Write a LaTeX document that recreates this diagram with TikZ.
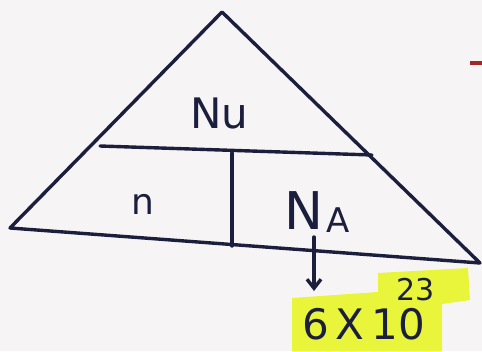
\documentclass[tikz,border=0pt]{standalone}
\usepackage{fontspec}
\setmainfont{DejaVu Sans}
\usetikzlibrary{arrows.meta}
\definecolor{ink}{HTML}{1B1E3C}
\definecolor{paper}{HTML}{F7F4F6}
\definecolor{hl}{HTML}{E8F53A}
\definecolor{redmark}{HTML}{A0262A}
\tikzset{
  edge/.style={draw=ink, line width=3.4pt, line join=round, line cap=round},
  lbl/.style={text=ink, inner sep=0pt, anchor=base west},
}
\begin{document}
\begin{tikzpicture}[x=1pt,y=-1pt]
\fill[paper] (0,0) rectangle (482,351);
\useasboundingbox (0,0) rectangle (482,351);
% highlight
\fill[hl] (292,298) -- (378,292) -- (378,273) -- (468,268) -- (470,300) -- (442,304) -- (442,351) -- (292,351) -- cycle;
% triangle
\coordinate (apex) at (222,12);
\coordinate (bl) at (10,228);
\coordinate (br) at (480,263);
\coordinate (ml) at (100,146);
\coordinate (mr) at (372,155);
\coordinate (vt) at (232,153);
\coordinate (vb) at (232,246);
\draw[edge] (apex) -- (bl) -- (br) -- cycle;
\draw[edge] (ml) -- (mr);
\draw[edge] (vt) -- (vb);
% labels
\node[lbl, font=\fontsize{42}{44}\selectfont] (nu) at (190,128) {Nu};
\node[lbl, font=\fontsize{36}{38}\selectfont] (n) at (131,214) {n};
\node[lbl, font=\fontsize{52}{54}\selectfont] (N) at (284,229) {N};
\node[lbl, font=\fontsize{34}{36}\selectfont] (A) at (326,232) {A};
\coordinate (arrtop) at (314,237);
\node[lbl, font=\fontsize{42}{44}\selectfont] (val) at (302,339) {6\,X\,10};
\node[lbl, font=\fontsize{30}{32}\selectfont] (exp) at (396,300) {23};
\draw[edge, -{Straight Barb[length=9pt,width=14pt]}] (arrtop) -- (314,291);
% red mark
\draw[redmark, line width=3.5pt] (470,63) -- (482,63);
\end{tikzpicture}
\end{document}
